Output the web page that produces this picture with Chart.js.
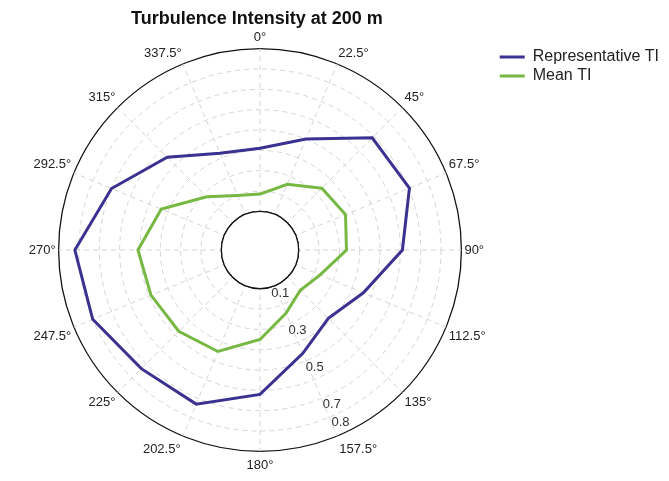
<!DOCTYPE html>
<html>
<head>
<meta charset="utf-8">
<script src="https://cdn.jsdelivr.net/npm/chart.js@4.4.0/dist/chart.umd.min.js"></script>
<style>
  html, body { margin: 0; padding: 0; background: #fff; }
</style>
</head>
<body>
<canvas id="chart" width="669" height="481"></canvas>
<script>
// wind direction sectors, clockwise from north
const directions = ['0°', '22.5°', '45°', '67.5°', '90°', '112.5°', '135°', '157.5°',
  '180°', '202.5°', '225°', '247.5°', '270°', '292.5°', '315°', '337.5°'];

const representativeTI = [0.31, 0.40, 0.59, 0.605, 0.51, 0.36, 0.285, 0.36,
  0.52, 0.63, 0.635, 0.70, 0.72, 0.60, 0.455, 0.325];

const meanTI = [0.085, 0.16, 0.24, 0.265, 0.235, 0.13, 0.09, 0.145,
  0.25, 0.35, 0.375, 0.39, 0.41, 0.335, 0.18, 0.10];

const gridValues = [0, 0.1, 0.2, 0.3, 0.4, 0.5, 0.6, 0.7, 0.8];
const tickLabels = [0.1, 0.3, 0.5, 0.7, 0.8];
const tickAngle = 155; // degrees, where the radial labels sit

const FONT = '"Liberation Sans", Arial, sans-serif';

// white hole in the middle + radial labels along the 155° direction
const holePlugin = {
  id: 'hole',
  beforeDatasetsDraw(chart) {
    const s = chart.scales.r;
    const ctx = chart.ctx;
    const r0 = s.getDistanceFromCenterForValue(0);
    ctx.save();
    ctx.beginPath();
    ctx.arc(s.xCenter, s.yCenter, r0, 0, Math.PI * 2);
    ctx.fillStyle = '#fff';
    ctx.fill();
    ctx.strokeStyle = '#111';
    ctx.lineWidth = 1.3;
    ctx.stroke();

    ctx.font = '13px ' + FONT;
    ctx.fillStyle = '#333';
    ctx.textAlign = 'center';
    ctx.textBaseline = 'middle';
    const a = tickAngle * Math.PI / 180;
    tickLabels.forEach(v => {
      const d = s.getDistanceFromCenterForValue(v) - 11;
      ctx.fillText(String(v), s.xCenter + d * Math.sin(a), s.yCenter - d * Math.cos(a));
    });
    ctx.restore();
  }
};

const isEdge = v => v === 0 || v === 0.8;

new Chart(document.getElementById('chart'), {
  type: 'radar',
  data: {
    labels: directions,
    datasets: [{
      label: 'Representative TI',
      data: representativeTI,
      borderColor: '#3a3190',
      backgroundColor: '#3a3190',
      borderWidth: 3,
      pointRadius: 0,
      fill: false
    }, {
      label: 'Mean TI',
      data: meanTI,
      borderColor: '#77b843',
      backgroundColor: '#77b843',
      borderWidth: 3,
      pointRadius: 0,
      fill: false
    }]
  },
  options: {
    responsive: false,
    animation: false,
    layout: { padding: { left: 17, right: 0, top: 0, bottom: 7 } },
    plugins: {
      title: {
        display: true,
        text: 'Turbulence Intensity at 200 m',
        fullSize: false,
        color: '#111',
        font: { family: FONT, size: 18, weight: 'bold' },
        padding: { top: 8, bottom: 0 }
      },
      legend: {
        position: 'right',
        align: 'start',
        title: { display: true, text: '', font: { size: 10 }, padding: { top: 18, bottom: 16 } },
        labels: {
          usePointStyle: true,
          pointStyle: 'line',
          pointStyleWidth: 25,
          color: '#222',
          padding: 3,
          font: { family: FONT, size: 16 }
        }
      },
      tooltip: { enabled: false }
    },
    scales: {
      r: {
        min: -0.19,
        max: 0.8,
        afterBuildTicks: scale => {
          scale.ticks = gridValues.map(v => ({ value: v }));
        },
        ticks: { display: false },
        grid: {
          circular: true,
          color: c => isEdge(c.tick.value) ? '#111' : '#d4d4d4',
          lineWidth: c => isEdge(c.tick.value) ? 1.3 : 1
        },
        border: {
          dash: c => isEdge(c.tick.value) ? [] : [5, 4]
        },
        angleLines: {
          color: '#d4d4d4',
          borderDash: [5, 4]
        },
        pointLabels: {
          color: '#222',
          padding: c => (c.index >= 7 && c.index <= 9) ? 6 : 3,
          font: { family: FONT, size: 13 }
        }
      }
    }
  },
  plugins: [holePlugin]
});
</script>
</body>
</html>
